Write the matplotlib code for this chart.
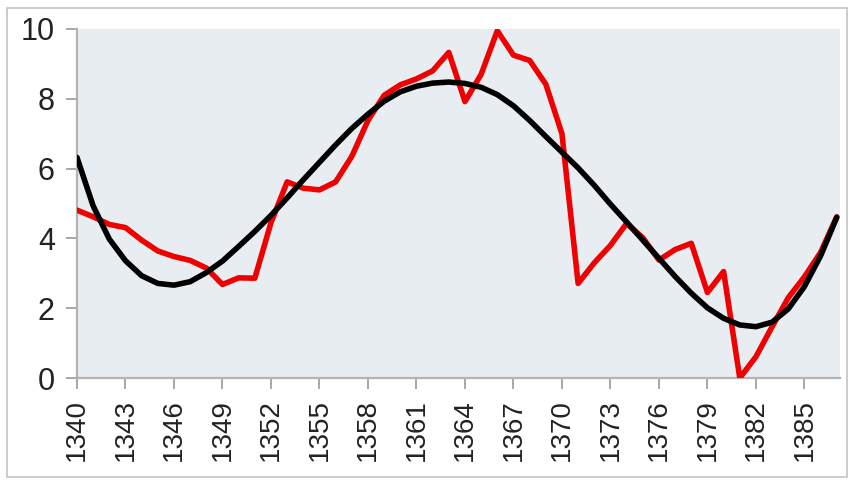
import matplotlib
matplotlib.use("Agg")
import matplotlib.pyplot as plt
from matplotlib.patches import Rectangle

plt.rcParams['font.family'] = ['Liberation Sans', 'DejaVu Sans']

years = list(range(1340, 1388))
red_values = [4.81, 4.62, 4.40, 4.31, 3.95, 3.64, 3.48, 3.37, 3.15, 2.68,
              2.87, 2.86, 4.45, 5.62, 5.44, 5.39, 5.62, 6.35, 7.38, 8.10,
              8.40, 8.57, 8.80, 9.33, 7.92, 8.70, 9.95, 9.25, 9.10, 8.42,
              7.00, 2.71, 3.30, 3.80, 4.43, 4.02, 3.38, 3.68, 3.86, 2.45,
              3.05, 0.00, 0.61, 1.47, 2.30, 2.90, 3.60, 4.62]
trend_values = [6.32, 4.93, 3.98, 3.36, 2.93, 2.71, 2.66, 2.76, 3.02, 3.35,
                3.77, 4.20, 4.66, 5.16, 5.68, 6.18, 6.68, 7.15, 7.56, 7.93,
                8.20, 8.36, 8.45, 8.48, 8.44, 8.33, 8.12, 7.80, 7.38, 6.92,
                6.47, 6.02, 5.52, 4.98, 4.47, 3.95, 3.43, 2.91, 2.43, 2.01,
                1.71, 1.52, 1.47, 1.60, 1.98, 2.62, 3.50, 4.60]
x_ticks = list(range(1340, 1388, 3))
y_ticks = [0, 2, 4, 6, 8, 10]

fig = plt.figure(figsize=(8.49, 4.87), dpi=100)
ax = fig.add_axes([77 / 849, 1 - 378 / 487, (840 - 77) / 849, (378 - 29) / 487])
ax.set_facecolor('#e7edf1')

# outer frame of the picture
fig.patches.append(Rectangle((7 / 849, 10 / 487), 840 / 849, 469 / 487,
                             transform=fig.transFigure, fill=False,
                             edgecolor='#c4c4c4', linewidth=1.2))

ax.plot(years, red_values, color='#f00000', linewidth=4.0,
        solid_joinstyle='round', solid_capstyle='round', zorder=3)
ax.plot(years, trend_values, color='black', linewidth=4.0,
        solid_joinstyle='round', solid_capstyle='round', zorder=4)

ax.set_xlim(1340, 1387.2)
ax.set_ylim(0, 10)
ax.set_xticks(x_ticks)
ax.set_xticklabels([str(t) for t in x_ticks], rotation=90)
ax.set_yticks(y_ticks)

for side in ['top', 'right']:
    ax.spines[side].set_visible(False)
for side in ['left', 'bottom']:
    ax.spines[side].set_color('#b4b4b4')
    ax.spines[side].set_linewidth(1.6)

ax.tick_params(axis='both', colors='#9a9a9a', length=8, width=1.2,
               labelcolor='#222222')
ax.tick_params(axis='x', pad=7, labelsize=20)
ax.tick_params(axis='y', pad=8, labelsize=22)

fig.savefig('out.png', dpi=100, facecolor='white')
